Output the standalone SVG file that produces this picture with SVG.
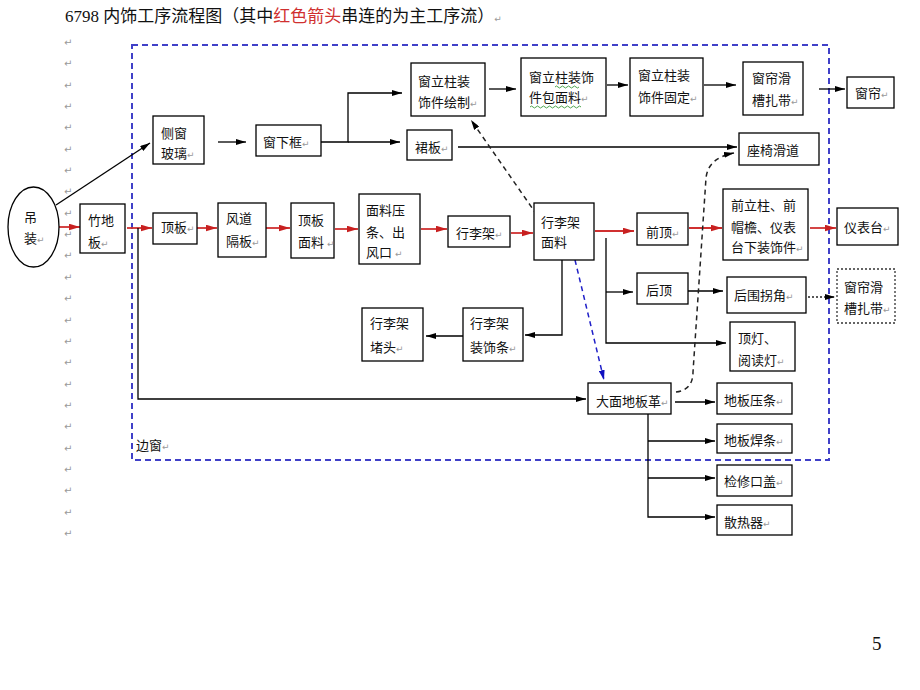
<svg xmlns="http://www.w3.org/2000/svg" width="920" height="690" viewBox="0 0 920 690">
<style>
.bx{fill:#fff;stroke:#000;stroke-width:1.3}
.dbx{fill:#fff;stroke:#333;stroke-width:1.3;stroke-dasharray:2 2}
.t{font-family:"Noto Sans CJK SC","Noto Sans CJK TC",sans-serif;font-size:13px;fill:#111}
.pm{font-family:"DejaVu Sans",sans-serif;font-size:9px;fill:#999}
.lm{font-family:"DejaVu Sans",sans-serif;font-size:10px;fill:#999}
.k{fill:none;stroke:#000;stroke-width:1.3}
.r{fill:none;stroke:#d03030;stroke-width:1.8}
.kd{fill:none;stroke:#222;stroke-width:1.5;stroke-dasharray:5 4}
.bd{fill:none;stroke:#2020c8;stroke-width:1.5;stroke-dasharray:5 4}
.kdot{fill:none;stroke:#222;stroke-width:1.3;stroke-dasharray:2 2}
</style>
<defs>
<marker id="ak" viewBox="0 0 10 6" refX="10" refY="3" markerWidth="10" markerHeight="6" markerUnits="userSpaceOnUse" orient="auto"><path d="M0,0 L10,3 L0,6 z" fill="#000"/></marker>
<marker id="ar" viewBox="0 0 10 6" refX="10" refY="3" markerWidth="11" markerHeight="7" markerUnits="userSpaceOnUse" orient="auto"><path d="M0,0 L10,3 L0,6 z" fill="#c82020"/></marker>
<marker id="ab" viewBox="0 0 10 6" refX="10" refY="3" markerWidth="10" markerHeight="6" markerUnits="userSpaceOnUse" orient="auto"><path d="M0,0 L10,3 L0,6 z" fill="#1010c0"/></marker>
</defs>
<rect width="920" height="690" fill="#fff"/>

<text x="65" y="22" font-family="Liberation Serif,'Noto Sans CJK SC',serif" font-size="17" fill="#111">6798 内饰工序流程图（其中<tspan fill="#d03030">红色箭头</tspan>串连的为主工序流）<tspan class="pm">↵</tspan></text>

<g id="margin-marks">
<text class="lm" x="64" y="46">↵</text><text class="lm" x="64" y="67">↵</text><text class="lm" x="64" y="89">↵</text><text class="lm" x="64" y="110">↵</text><text class="lm" x="64" y="131">↵</text><text class="lm" x="64" y="153">↵</text><text class="lm" x="64" y="174">↵</text><text class="lm" x="64" y="195">↵</text><text class="lm" x="64" y="217">↵</text><text class="lm" x="64" y="238">↵</text><text class="lm" x="64" y="259">↵</text><text class="lm" x="64" y="281">↵</text><text class="lm" x="64" y="302">↵</text><text class="lm" x="64" y="324">↵</text><text class="lm" x="64" y="345">↵</text><text class="lm" x="64" y="366">↵</text><text class="lm" x="64" y="388">↵</text><text class="lm" x="64" y="409">↵</text><text class="lm" x="64" y="430">↵</text><text class="lm" x="64" y="452">↵</text><text class="lm" x="64" y="473">↵</text><text class="lm" x="64" y="494">↵</text><text class="lm" x="64" y="516">↵</text><text class="lm" x="64" y="537">↵</text>
</g>

<g id="side-window-frame">
<rect x="132" y="45" width="697" height="415" fill="none" stroke="#4040c8" stroke-width="2" stroke-dasharray="6 4"/>
<text class="t" x="136" y="450">边窗<tspan class="pm">↵</tspan></text>
</g>

<g id="connectors">
<line class="k" x1="56" y1="205" x2="150" y2="143" marker-end="url(#ak)"/>
<line class="r" x1="59" y1="227" x2="80" y2="227" marker-end="url(#ar)"/>
<line class="r" x1="127" y1="228" x2="152" y2="228" marker-end="url(#ar)"/>
<line class="r" x1="197" y1="228" x2="217" y2="228" marker-end="url(#ar)"/>
<line class="r" x1="266" y1="228" x2="290" y2="228" marker-end="url(#ar)"/>
<line class="r" x1="335" y1="229" x2="358" y2="229" marker-end="url(#ar)"/>
<line class="r" x1="421" y1="229" x2="447" y2="229" marker-end="url(#ar)"/>
<line class="r" x1="511" y1="233" x2="533" y2="233" marker-end="url(#ar)"/>
<line class="r" x1="595" y1="231" x2="634" y2="231" marker-end="url(#ar)"/>
<line class="r" x1="689" y1="228" x2="722" y2="228" marker-end="url(#ar)"/>
<line class="r" x1="810" y1="228" x2="836" y2="228" marker-end="url(#ar)"/>
<line class="k" x1="218" y1="142" x2="246" y2="142" marker-end="url(#ak)"/>
<path class="k" d="M321,142 H348 V93 H402" marker-end="url(#ak)"/>
<path class="k" d="M348,142 H400" marker-end="url(#ak)"/>
<line class="k" x1="489" y1="89" x2="516" y2="89" marker-end="url(#ak)"/>
<line class="k" x1="607" y1="85" x2="628" y2="85" marker-end="url(#ak)"/>
<line class="k" x1="704" y1="85" x2="736" y2="85" marker-end="url(#ak)"/>
<line class="k" x1="819" y1="89" x2="845" y2="89" marker-end="url(#ak)"/>
<line class="k" x1="458" y1="147" x2="737" y2="147" marker-end="url(#ak)"/>
<line class="kd" x1="537" y1="215" x2="471" y2="120" marker-end="url(#ak)"/>
<path class="k" d="M606,238 V343 H726" marker-end="url(#ak)"/>
<path class="k" d="M606,292 H633" marker-end="url(#ak)"/>
<line class="k" x1="688" y1="291" x2="723" y2="291" marker-end="url(#ak)"/>
<line class="kdot" x1="808" y1="297" x2="835" y2="297" marker-end="url(#ak)"/>
<path class="k" d="M562,260 V335 H525" marker-end="url(#ak)"/>
<line class="k" x1="463" y1="336" x2="426" y2="336" marker-end="url(#ak)"/>
<path class="k" d="M138,228 V399 H586" marker-end="url(#ak)"/>
<line class="bd" x1="575" y1="260" x2="604" y2="380" marker-end="url(#ab)"/>
<path class="kd" d="M676,392 Q693,390 693,372 L706,178 Q708,158 734,153" marker-end="url(#ak)"/>
<line class="k" x1="675" y1="402" x2="715" y2="402" marker-end="url(#ak)"/>
<path class="k" d="M648,414 V517 H715" marker-end="url(#ak)"/>
<path class="k" d="M648,441 H715" marker-end="url(#ak)"/>
<path class="k" d="M648,478 H715" marker-end="url(#ak)"/>
</g>

<g id="n-diaozhuang"><ellipse cx="33.5" cy="227" rx="25.5" ry="40" fill="#fff" stroke="#000" stroke-width="1.3"/><text class="t" x="24" y="222" font-size="15">吊</text><text class="t" x="24" y="243" font-size="15">装<tspan class="pm">↵</tspan></text></g>
<g id="n-zhudiban"><rect class="bx" x="80" y="204" width="45" height="49"/><text class="t" x="88" y="225">竹地</text><text class="t" x="88" y="247">板<tspan class="pm">↵</tspan></text></g>
<g id="n-cechuangboli"><rect class="bx" x="153" y="116" width="51" height="48"/><text class="t" x="161" y="138">侧窗</text><text class="t" x="161" y="158">玻璃<tspan class="pm">↵</tspan></text></g>
<g id="n-chuangxiakuang"><rect class="bx" x="256" y="125" width="65" height="31"/><text class="t" x="263" y="147">窗下框<tspan class="pm">↵</tspan></text></g>
<g id="n-huizhi"><rect class="bx" x="411" y="63" width="74" height="53"/><text class="t" x="418" y="86">窗立柱装</text><text class="t" x="418" y="107">饰件绘制<tspan class="pm">↵</tspan></text></g>
<g id="n-qunban"><rect class="bx" x="407" y="130" width="45" height="30"/><text class="t" x="415" y="152">裙板<tspan class="pm">↵</tspan></text></g>
<g id="n-baomianliao"><rect class="bx" x="521" y="58" width="85" height="58"/><text class="t" x="529" y="82">窗立柱装饰</text><text class="t" x="529" y="102">件包面料<tspan class="pm">↵</tspan></text><path d="M555,87 q1.5,-2 3,0 t3,0 t3,0 t3,0 t3,0 t3,0 t3,0 t3,0 M530,107 q1.5,-2 3,0 t3,0 t3,0 t3,0 t3,0 t3,0 t3,0 t3,0 t3,0 t3,0 t3,0 t3,0 t3,0 t3,0 t3,0 t3,0 t3,0" fill="none" stroke="#3a9a3a" stroke-width="0.9"/></g>
<g id="n-guding"><rect class="bx" x="630" y="58" width="73" height="58"/><text class="t" x="638" y="80">窗立柱装</text><text class="t" x="638" y="102">饰件固定<tspan class="pm">↵</tspan></text></g>
<g id="n-huacaozadai"><rect class="bx" x="743" y="62" width="60" height="53"/><text class="t" x="752" y="83">窗帘滑</text><text class="t" x="752" y="105">槽扎带<tspan class="pm">↵</tspan></text></g>
<g id="n-chuanglian"><rect class="bx" x="847" y="77" width="47" height="31"/><text class="t" x="855" y="98">窗帘<tspan class="pm">↵</tspan></text></g>
<g id="n-zuoyihuadao"><rect class="bx" x="739" y="133" width="80" height="32"/><text class="t" x="747" y="155">座椅滑道</text></g>
<g id="n-dingban"><rect class="bx" x="153" y="213" width="44" height="31"/><text class="t" x="161" y="232">顶板<tspan class="pm">↵</tspan></text></g>
<g id="n-fengdaogeban"><rect class="bx" x="218" y="203" width="48" height="54"/><text class="t" x="226" y="223">风道</text><text class="t" x="226" y="246">隔板<tspan class="pm">↵</tspan></text></g>
<g id="n-dingbanmianliao"><rect class="bx" x="291" y="203" width="43" height="55"/><text class="t" x="298" y="225">顶板</text><text class="t" x="298" y="247">面料 <tspan class="pm">↵</tspan></text></g>
<g id="n-mianliaoyatiao"><rect class="bx" x="359" y="194" width="61" height="70"/><text class="t" x="366" y="215">面料压</text><text class="t" x="366" y="237">条、出</text><text class="t" x="366" y="257">风口 <tspan class="pm">↵</tspan></text></g>
<g id="n-xinglijia"><rect class="bx" x="448" y="216" width="62" height="31"/><text class="t" x="456" y="238">行李架<tspan class="pm">↵</tspan></text></g>
<g id="n-xinglijiamianliao"><rect class="bx" x="534" y="203" width="60" height="57"/><text class="t" x="541" y="227">行李架</text><text class="t" x="541" y="247">面料</text></g>
<g id="n-qianding"><rect class="bx" x="637" y="213" width="51" height="32"/><text class="t" x="646" y="237">前顶<tspan class="pm">↵</tspan></text></g>
<g id="n-qianlizhu"><rect class="bx" x="723" y="189" width="85" height="71"/><text class="t" x="731" y="210">前立柱、前</text><text class="t" x="731" y="232">帽檐、仪表</text><text class="t" x="731" y="252">台下装饰件<tspan class="pm">↵</tspan></text></g>
<g id="n-yibiaotai"><rect class="bx" x="837" y="208" width="61" height="37"/><text class="t" x="844" y="232">仪表台<tspan class="pm">↵</tspan></text></g>
<g id="n-houding"><rect class="bx" x="637" y="273" width="51" height="31"/><text class="t" x="646" y="295">后顶</text></g>
<g id="n-houweiguaijiao"><rect class="bx" x="727" y="277" width="79" height="36"/><text class="t" x="734" y="300">后围拐角<tspan class="pm">↵</tspan></text></g>
<g id="n-huacaozadai2"><rect class="dbx" x="837" y="269" width="58" height="54"/><text class="t" x="844" y="292">窗帘滑</text><text class="t" x="844" y="313">槽扎带<tspan class="pm">↵</tspan></text></g>
<g id="n-dingdeng"><rect class="bx" x="730" y="322" width="65" height="49"/><text class="t" x="738" y="343">顶灯、</text><text class="t" x="738" y="365">阅读灯<tspan class="pm">↵</tspan></text></g>
<g id="n-zhuangshitiao"><rect class="bx" x="463" y="308" width="60" height="53"/><text class="t" x="470" y="328">行李架</text><text class="t" x="470" y="352">装饰条<tspan class="pm">↵</tspan></text></g>
<g id="n-dutou"><rect class="bx" x="362" y="308" width="61" height="53"/><text class="t" x="370" y="328">行李架</text><text class="t" x="370" y="352">堵头<tspan class="pm">↵</tspan></text></g>
<g id="n-damiandibange"><rect class="bx" x="588" y="383" width="83" height="31"/><text class="t" x="596" y="406">大面地板革<tspan class="pm">↵</tspan></text></g>
<g id="n-dibanyatiao"><rect class="bx" x="717" y="383" width="75" height="31"/><text class="t" x="724" y="405">地板压条<tspan class="pm">↵</tspan></text></g>
<g id="n-dibanhantiao"><rect class="bx" x="717" y="424" width="75" height="29"/><text class="t" x="724" y="445">地板焊条<tspan class="pm">↵</tspan></text></g>
<g id="n-jianxiukougai"><rect class="bx" x="717" y="465" width="75" height="31"/><text class="t" x="724" y="486">检修口盖<tspan class="pm">↵</tspan></text></g>
<g id="n-sanreqi"><rect class="bx" x="717" y="505" width="75" height="30"/><text class="t" x="724" y="527">散热器<tspan class="pm">↵</tspan></text></g>

<text x="872" y="650" font-family="Liberation Serif,serif" font-size="19" fill="#111">5</text>
</svg>
